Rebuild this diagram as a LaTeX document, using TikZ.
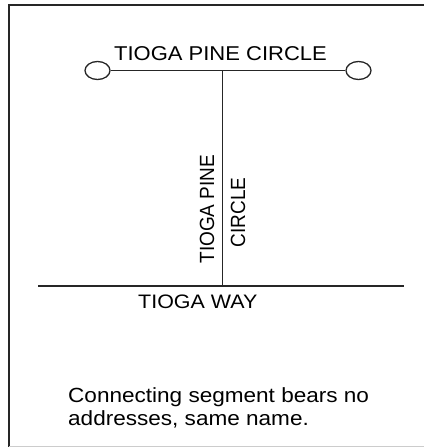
\documentclass[tikz,border=0pt]{standalone}
\usepackage{fontspec}
\usepackage{graphicx}
\setmainfont{Liberation Sans}
\usetikzlibrary{shapes.geometric}
\tikzset{
  road/.style={line width=1.3pt, draw=black!85},
  frameline/.style={line width=1.4pt, draw=black!85},
  endcircle/.style={ellipse, draw=black!85, line width=1.3pt, minimum width=25pt, minimum height=18pt, inner sep=0pt},
  lbl/.style={inner sep=0pt, anchor=base, font=\fontsize{20}{24}\selectfont},
  vlbl/.style={inner sep=0pt, anchor=base, rotate=90, font=\fontsize{19}{23}\selectfont},
  note/.style={inner sep=0pt, anchor=base west, font=\fontsize{20.5}{23}\selectfont}
}
\newcommand{\hstretch}[1]{\scalebox{1.1}[1]{#1}}
\newcommand{\vstretch}[1]{\scalebox{1}[1.08]{#1}}
\begin{document}
\begin{tikzpicture}[x=1pt,y=-1pt]
\useasboundingbox (0,0) rectangle (424,447);
\fill[white] (0,0) rectangle (424,447);
% frame
\coordinate (ftl) at (9,5);
\coordinate (ftr) at (424,5);
\coordinate (fbl) at (9,447);
\coordinate (gbl) at (9,446);
\coordinate (gbr) at (424,446);
\draw[frameline] (fbl) -- (ftl) -- (ftr);
\draw[line width=1pt, draw=black!20] (gbl) -- (gbr);
% top road with end circles
\node[endcircle] (lc) at (97.5,70.5) {};
\node[endcircle] (rc) at (358.5,70.5) {};
\coordinate (tj) at (222.5,70.5);
\draw[road] (lc.east) -- (rc.west);
% cross connector and bottom road
\coordinate (bj) at (222.5,286);
\coordinate (bl) at (38,286);
\coordinate (br) at (404,286);
\draw[road] (tj) -- (bj);
\draw[road] (bl) -- (br);
% labels
\node[lbl] (ltop) at (220.5,60) {\hstretch{TIOGA PINE CIRCLE}};
\node[lbl, font=\fontsize{19.5}{23}\selectfont] (lway) at (197.8,308.5) {\hstretch{TIOGA WAY}};
\node[vlbl] (lvp) at (214,209.2) {\vstretch{TIOGA PINE}};
\node[vlbl] (lvc) at (245,212.2) {\vstretch{CIRCLE}};
\node[note] (n1) at (68,402) {\hstretch{Connecting segment bears no}};
\node[note] (n2) at (68,425) {\hstretch{addresses, same name.}};
\end{tikzpicture}
\end{document}
